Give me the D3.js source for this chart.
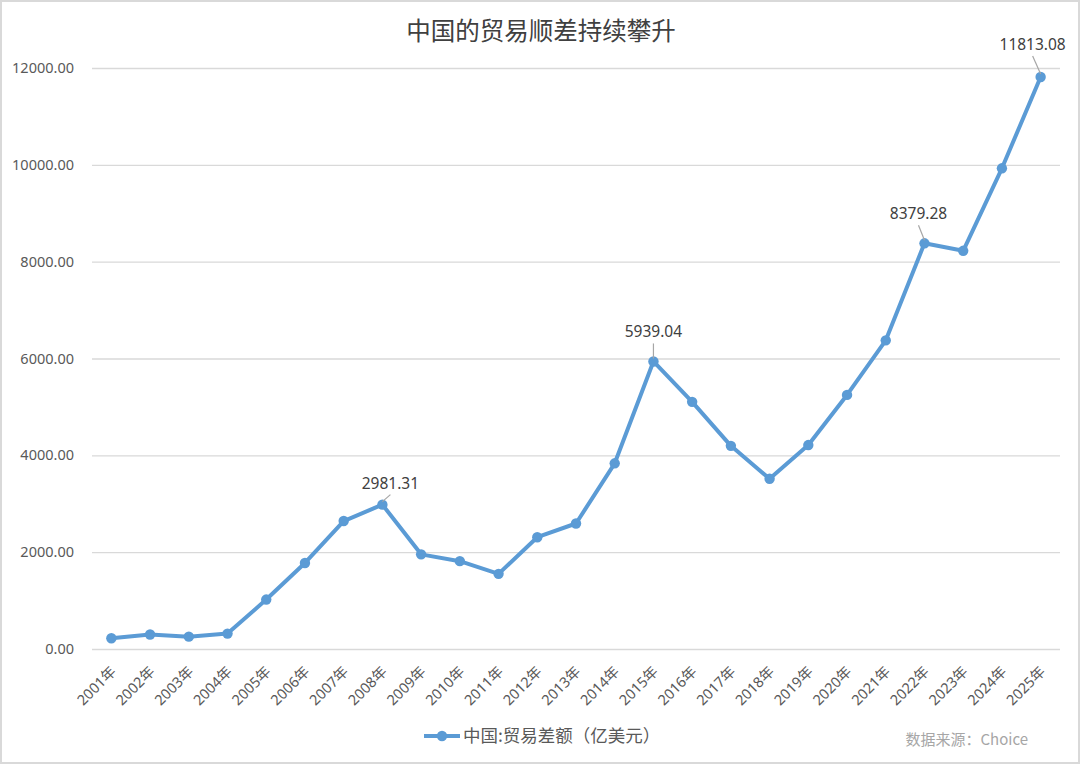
<!DOCTYPE html>
<html>
<head>
<meta charset="utf-8">
<script src="https://cdn.jsdelivr.net/npm/d3@7"></script>
<style>
  html, body { margin: 0; padding: 0; background: #fff; }
  svg { display: block; font-family: "Noto Sans", "Noto Sans CJK SC", sans-serif; }
</style>
</head>
<body>
<script>
const W = 1080;
const H = 764;
const MARGIN = { top: 68, right: 20, bottom: 115, left: 92 };

const TITLE = "中国的贸易顺差持续攀升";
const SERIES_NAME = "中国:贸易差额（亿美元）";
const SOURCE = "数据来源：Choice";

const years = [
  "2001年", "2002年", "2003年", "2004年", "2005年", "2006年", "2007年", "2008年",
  "2009年", "2010年", "2011年", "2012年", "2013年", "2014年", "2015年", "2016年",
  "2017年", "2018年", "2019年", "2020年", "2021年", "2022年", "2023年", "2024年", "2025年"
];
const surplus = [
  221, 300, 255, 318, 1021, 1777, 2643, 2981.31,
  1955, 1814, 1552, 2309, 2592, 3835, 5939.04, 5105,
  4196, 3515, 4212, 5248, 6375, 8379.28, 8224, 9928, 11813.08
];
const yTicks = [0, 2000, 4000, 6000, 8000, 10000, 12000];
// points that carry a value label, with label offset (dx, dy) from the point
const labelled = [
  { year: "2008年", dx: 8, dy: -16 },
  { year: "2015年", dx: 0, dy: -24 },
  { year: "2022年", dx: -6, dy: -24 },
  { year: "2025年", dx: -8, dy: -27 }
];

const COLOR = "#5b9bd5";
const TEXT = "#595959";
const GRID = "#d9d9d9";

const svg = d3.select("body").append("svg")
  .attr("width", W)
  .attr("height", H);

svg.append("rect")
  .attr("x", 1).attr("y", 1)
  .attr("width", W - 2).attr("height", H - 2)
  .attr("fill", "#fff")
  .attr("stroke", "#d9d9d9")
  .attr("stroke-width", 2);

const x = d3.scaleBand()
  .domain(years)
  .range([MARGIN.left, W - MARGIN.right])
  .padding(0);

const y = d3.scaleLinear()
  .domain([0, 12000])
  .range([H - MARGIN.bottom, MARGIN.top]);

const cx = d => x(d) + x.bandwidth() / 2;

// title
svg.append("text")
  .attr("x", W / 2 + 1)
  .attr("y", 40)
  .attr("text-anchor", "middle")
  .attr("font-family", "Noto Sans CJK SC")
  .attr("font-size", 24.5)
  .attr("fill", "#404040")
  .text(TITLE);

// grid + y labels
const yAxis = svg.append("g")
  .attr("transform", "translate(" + MARGIN.left + ",0)")
  .call(d3.axisLeft(y)
    .tickValues(yTicks)
    .tickSize(-(W - MARGIN.left - MARGIN.right))
    .tickPadding(18)
    .tickFormat(d3.format(".2f")));
yAxis.select(".domain").remove();
yAxis.selectAll("line").attr("stroke", GRID).attr("stroke-width", 1.3);
yAxis.selectAll("text")
  .attr("fill", TEXT)
  .attr("font-size", 14.5)
  .attr("font-family", "Noto Sans");

// x labels
const xAxis = svg.append("g")
  .attr("transform", "translate(0," + (H - MARGIN.bottom) + ")")
  .call(d3.axisBottom(x).tickSize(0).tickPadding(0));
xAxis.select(".domain").remove();
xAxis.selectAll("text")
  .attr("fill", TEXT)
  .attr("font-size", 14.5)
  .attr("font-family", "Noto Sans, Noto Sans CJK SC")
  .attr("text-anchor", "end")
  .attr("dy", "0.35em")
  .attr("transform", "translate(2,20) rotate(-45)");

// line
const line = d3.line()
  .x((d, i) => cx(years[i]))
  .y(d => y(d));

svg.append("path")
  .datum(surplus)
  .attr("fill", "none")
  .attr("stroke", COLOR)
  .attr("stroke-width", 4)
  .attr("stroke-linejoin", "round")
  .attr("d", line);

svg.append("g")
  .selectAll("circle")
  .data(surplus)
  .join("circle")
  .attr("cx", (d, i) => cx(years[i]))
  .attr("cy", d => y(d))
  .attr("r", 5.2)
  .attr("fill", COLOR);

// value labels with leader lines
const lab = svg.append("g");
labelled.forEach(l => {
  const i = years.indexOf(l.year);
  const px = cx(l.year), py = y(surplus[i]);
  const tx = px + l.dx, ty = py + l.dy;
  lab.append("line")
    .attr("x1", tx).attr("y1", ty + 6)
    .attr("x2", px).attr("y2", py - 3)
    .attr("stroke", "#a6a6a6")
    .attr("stroke-width", 1.2);
  lab.append("text")
    .attr("x", tx)
    .attr("y", ty)
    .attr("text-anchor", "middle")
    .attr("font-size", 15.5)
    .attr("fill", "#404040")
    .text(d3.format(".2f")(surplus[i]));
});

// legend
const lg = svg.append("g").attr("transform", "translate(424,736)");
lg.append("line")
  .attr("x1", 0).attr("x2", 36)
  .attr("stroke", COLOR).attr("stroke-width", 4);
lg.append("circle").attr("cx", 18).attr("r", 5.2).attr("fill", COLOR);
lg.append("text")
  .attr("x", 39)
  .attr("dy", "0.35em")
  .attr("font-family", "Noto Sans CJK SC")
  .attr("font-size", 17.5)
  .attr("fill", TEXT)
  .text(SERIES_NAME);

// source
svg.append("text")
  .attr("x", 1028)
  .attr("y", 740)
  .attr("dy", "0.35em")
  .attr("text-anchor", "end")
  .attr("font-family", "Noto Sans CJK SC")
  .attr("font-size", 15)
  .attr("fill", "#a6a6a6")
  .text(SOURCE);
</script>
</body>
</html>
